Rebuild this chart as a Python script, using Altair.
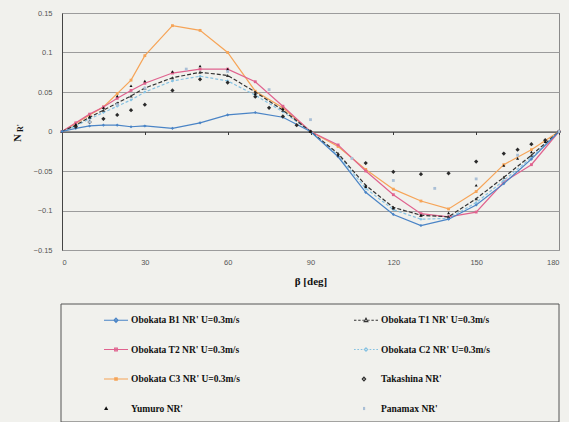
import altair as alt
import pandas as pd

# Drift angle beta (deg) and yaw moment coefficient N_R' for the Obokata towing tests
obokata_angles = [0, 5, 10, 15, 20, 25, 30, 40, 50, 60, 70, 80, 90,
                  100, 110, 120, 130, 140, 150, 160, 170, 180]
obokata_b1 = [0, 0.004, 0.007, 0.008, 0.008, 0.006, 0.007, 0.004, 0.011, 0.021, 0.024, 0.018, 0,
              -0.032, -0.077, -0.105, -0.119, -0.111, -0.093, -0.066, -0.035, 0]
obokata_t1 = [0, 0.008, 0.018, 0.027, 0.036, 0.045, 0.055, 0.068, 0.075, 0.071, 0.050, 0.027, 0,
              -0.028, -0.068, -0.096, -0.106, -0.108, -0.085, -0.058, -0.030, 0]
obokata_t2 = [0, 0.011, 0.022, 0.031, 0.042, 0.052, 0.061, 0.074, 0.079, 0.079, 0.063, 0.032, 0,
              -0.017, -0.050, -0.080, -0.104, -0.108, -0.102, -0.064, -0.042, 0]
obokata_c2 = [0, 0.007, 0.016, 0.024, 0.032, 0.040, 0.050, 0.064, 0.070, 0.064, 0.046, 0.025, 0,
              -0.030, -0.072, -0.099, -0.111, -0.110, -0.090, -0.062, -0.033, 0]
obokata_c3 = [0, 0.010, 0.021, 0.031, 0.048, 0.065, 0.096, 0.134, 0.128, 0.100, 0.051, 0.030, 0,
              -0.019, -0.048, -0.073, -0.088, -0.098, -0.076, -0.042, -0.023, 0]

# Reference data sets (scatter only)
takashina_angles = [5, 10, 15, 20, 25, 30, 40, 50, 60, 70, 75, 80, 85, 90,
                    110, 120, 130, 140, 150, 160, 165, 170, 175, 180]
takashina_vals = [0.006, 0.012, 0.016, 0.021, 0.027, 0.034, 0.052, 0.066, 0.062, 0.044, 0.030, 0.019, 0.008, 0,
                  -0.040, -0.051, -0.054, -0.053, -0.038, -0.028, -0.023, -0.016, -0.011, 0]
yumuro_angles = [5, 10, 15, 20, 25, 30, 40, 50, 60, 70, 80, 90,
                 100, 110, 120, 130, 140, 150, 160, 165, 170, 175, 180]
yumuro_vals = [0.009, 0.019, 0.030, 0.045, 0.058, 0.064, 0.076, 0.083, 0.079, 0.048, 0.029, 0,
               -0.030, -0.070, -0.097, -0.106, -0.103, -0.068, -0.043, -0.034, -0.026, -0.013, 0]
panamax_angles = [10, 20, 30, 45, 60, 75, 90, 105, 120, 135, 150, 165, 180]
panamax_vals = [0.012, 0.034, 0.055, 0.079, 0.076, 0.053, 0.015,
                -0.034, -0.062, -0.072, -0.060, -0.030, 0]

series_names = [
    "Obokata B1 NR' U=0.3m/s",
    "Obokata T1 NR' U=0.3m/s",
    "Obokata T2 NR' U=0.3m/s",
    "Obokata C2 NR' U=0.3m/s",
    "Obokata C3 NR' U=0.3m/s",
    "Takashina NR'",
    "Yumuro NR'",
    "Panamax NR'",
]

x_ticks = [0, 30, 60, 90, 120, 150, 180]
y_ticks = [-0.15, -0.1, -0.05, 0, 0.05, 0.1, 0.15]

W, H = 497, 237
BG = "#f1f1ed"

colors = {
    "b1": "#4a84c6",
    "t1": "#333333",
    "t2": "#e0628e",
    "c2": "#86c2e2",
    "c3": "#f6a457",
    "takashina": "#2a2a2a",
    "yumuro": "#111111",
    "panamax": "#a9bfd6",
}

x_enc = alt.X(
    "angle:Q",
    scale=alt.Scale(domain=[0, 180], nice=False, zero=False),
    axis=alt.Axis(
        values=x_ticks, title="β [deg]", offset=-H / 2,
        domainColor="#3a3a3a", domainWidth=1.2, tickColor="#3a3a3a", tickSize=3,
        labelPadding=124, labelFont="Liberation Sans", labelFontSize=7.5, labelColor="#555555",
        grid=False, titleFont="Liberation Serif", titleFontWeight="bold", titleFontSize=11,
        titleColor="#111111", titlePadding=9,
    ),
)
y_enc = alt.Y(
    "value:Q",
    scale=alt.Scale(domain=[-0.15, 0.15], nice=False, zero=False),
    axis=alt.Axis(
        values=y_ticks, title=None, grid=True, gridColor="#9c9c9c", gridWidth=1,
        domainColor="#444444", ticks=False, labelPadding=10,
        labelExpr="format(datum.value, '~g')",
        labelFont="Liberation Sans", labelFontSize=7.5, labelColor="#555555",
    ),
)


def frame(angles, vals):
    return pd.DataFrame({"angle": angles, "value": vals})


def line_layer(vals, color, shape, size, dash=None):
    mark_kw = dict(color=color, strokeWidth=1.2,
                   point=alt.OverlayMarkDef(shape=shape, size=size, filled=True, color=color))
    if dash:
        mark_kw["strokeDash"] = dash
    return alt.Chart(frame(obokata_angles, vals)).mark_line(**mark_kw).encode(x=x_enc, y=y_enc)


def scatter_layer(angles, vals, color, shape, size):
    return alt.Chart(frame(angles, vals)).mark_point(
        shape=shape, size=size, filled=True, color=color, opacity=1
    ).encode(x=x_enc, y=y_enc)


layers = [
    line_layer(obokata_c3, colors["c3"], "square", 8),
    line_layer(obokata_t2, colors["t2"], "square", 8),
    line_layer(obokata_c2, colors["c2"], "diamond", 10, dash=[3, 2]),
    line_layer(obokata_t1, colors["t1"], "triangle-up", 12, dash=[4, 2]),
    line_layer(obokata_b1, colors["b1"], "diamond", 10),
    scatter_layer(takashina_angles, takashina_vals, colors["takashina"], "diamond", 18),
    scatter_layer(yumuro_angles, yumuro_vals, colors["yumuro"], "triangle-up", 9),
    scatter_layer(panamax_angles, panamax_vals, colors["panamax"], "square", 8),
]

# Legend symbols: line + marker glyphs in a [-1, 1] box
legend_paths = [
    "M-1,0H1M0,-0.17L0.17,0L0,0.17L-0.17,0Z",
    "M-1,0H-0.8M-0.65,0H-0.45M-0.3,0H-0.18M0.18,0H0.3M0.45,0H0.65M0.8,0H1M0,-0.17L0.15,0.11L-0.15,0.11Z",
    "M-1,0H1M-0.11,-0.11H0.11V0.11H-0.11Z",
    "M-1,0H-0.86M-0.72,0H-0.58M-0.44,0H-0.3M0.3,0H0.44M0.58,0H0.72M0.86,0H1M0,-0.14L0.14,0L0,0.14L-0.14,0Z",
    "M-1,0H1M-0.1,-0.1H0.1V0.1H-0.1Z",
    "M-0.17,-0.15L-0.03,0L-0.17,0.15L-0.31,0Z",
    "M-0.82,-0.09L-0.73,0.07L-0.91,0.07Z",
    "M-0.2,-0.08H-0.12V0.08H-0.2Z",
]
legend_colors = [colors["b1"], colors["t1"], colors["t2"], colors["c2"], colors["c3"],
                 colors["takashina"], colors["yumuro"], colors["panamax"]]

legend_def = alt.Legend(
    title=None, orient="none", legendX=41, legendY=294, columns=2, direction="horizontal",
    columnPadding=111, rowPadding=11.5, padding=0,
    symbolSize=576, symbolStrokeWidth=1.2, symbolOpacity=1,
    labelFont="Liberation Serif", labelFontWeight="bold", labelFontSize=9.5,
    labelColor="#111111", labelOffset=2, labelLimit=300,
)

legend_layer = alt.Chart(pd.DataFrame({"series": series_names})).mark_point(
    filled=False, opacity=0
).encode(
    shape=alt.Shape("series:N", scale=alt.Scale(domain=series_names, range=legend_paths), legend=legend_def),
    color=alt.Color("series:N", scale=alt.Scale(domain=series_names, range=legend_colors), legend=legend_def),
)

legend_box = alt.Chart(pd.DataFrame({"box": [0]})).mark_rect(
    fillOpacity=0, stroke="#555555", strokeWidth=1
).encode(x=alt.value(-1), x2=alt.value(497), y=alt.value(291), y2=alt.value(409))

# Y-axis title N_R' drawn as rotated text with a smaller subscript
title_n = alt.Chart(pd.DataFrame({"t": ["N"]})).mark_text(
    angle=270, font="Liberation Serif", fontWeight="bold", fontSize=11, color="#111111"
).encode(text="t:N", x=alt.value(-44), y=alt.value(125))
title_r = alt.Chart(pd.DataFrame({"t": ["R'"]})).mark_text(
    angle=270, font="Liberation Serif", fontWeight="bold", fontSize=8, color="#111111"
).encode(text="t:N", x=alt.value(-41.5), y=alt.value(115))

chart = alt.layer(legend_box, *layers, legend_layer, title_n, title_r).properties(
    width=W, height=H,
    padding={"left": 62, "top": 13, "right": 10, "bottom": 172},
    autosize=alt.AutoSizeParams(type="none"),
    background=BG,
).configure_view(stroke="#8a8a8a", strokeWidth=1)

chart.save("out.html", embed_options={"renderer": "svg", "actions": False})
